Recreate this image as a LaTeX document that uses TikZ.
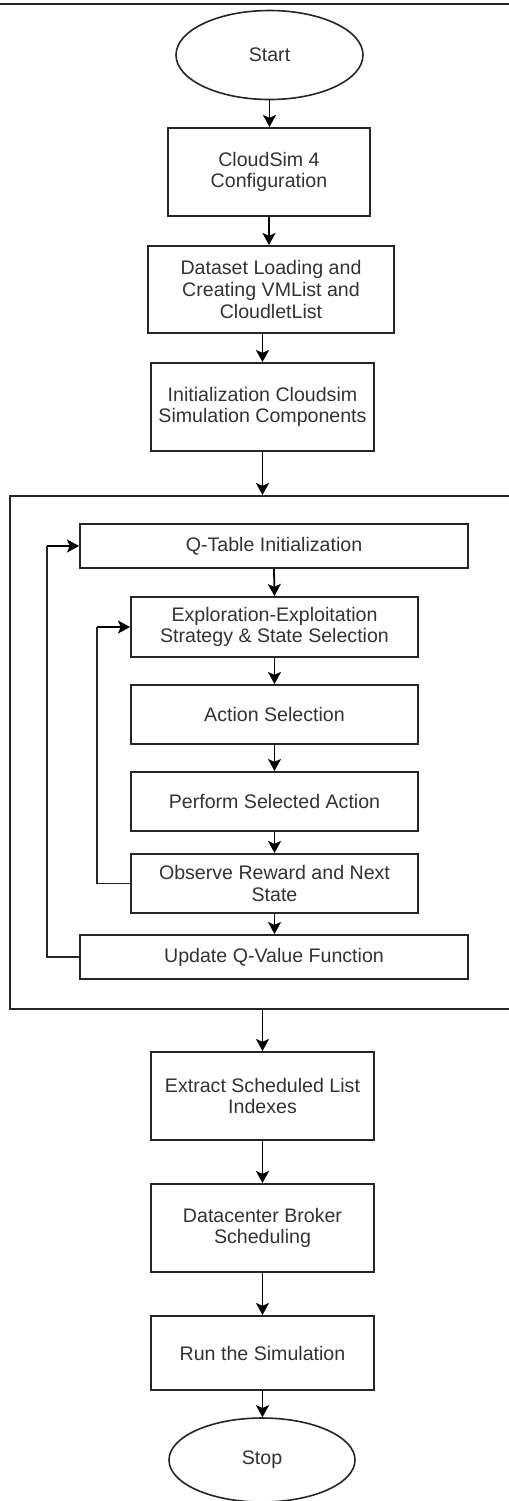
\documentclass[tikz,border=0pt]{standalone}
\usepackage{fontspec}
\setmainfont{Liberation Sans}
\usetikzlibrary{arrows.meta,shapes.geometric}
\begin{document}
\begin{tikzpicture}[x=0.5pt,y=-0.5pt,
  every node/.style={font=\fontsize{9.8}{10.9}\selectfont, text=black!80, align=center, inner sep=0pt},
  term/.style={draw=black!85, line width=0.8pt, ellipse},
  procbox/.style={draw=black!85, line width=1pt, rectangle},
  arr/.style={draw=black, line width=0.9pt, -{Stealth[length=6pt,width=6.5pt,inset=1.4pt]}},
  loopline/.style={draw=black!85, line width=0.9pt}
]
\useasboundingbox (0,0) rectangle (509,1501);
\clip (0,0) rectangle (509,1501);
\fill[white] (0,0) rectangle (509,1501);
\draw[black!85, line width=1pt] (0,4) -- (509,4);

\node[term, minimum width=93.5pt, minimum height=44.5pt] (start) at (269.5,55) {Start};
\node[procbox, minimum width=101pt, minimum height=44pt] (cfg) at (269,172) {CloudSim 4\\Configuration};
\node[procbox, minimum width=123pt, minimum height=43.5pt] (ds) at (271,289.5) {Dataset Loading and\\Creating VMList and\\CloudletList};
\node[procbox, minimum width=111.5pt, minimum height=44pt] (init) at (262.5,407) {Initialization Cloudsim\\Simulation Components};

\node[procbox, line width=0.9pt, minimum width=256pt, minimum height=256.5pt, anchor=north west] (frame) at (9,495) {};

\node[procbox, minimum width=194pt, minimum height=22pt] (qt) at (274,546) {Q-Table Initialization};
\node[procbox, minimum width=143.5pt, minimum height=30pt] (ex) at (274.5,627) {Exploration-Exploitation\\Strategy \& State Selection};
\node[procbox, minimum width=143.5pt, minimum height=29.5pt] (act) at (274.5,714.5) {Action Selection};
\node[procbox, minimum width=143.5pt, minimum height=29.5pt] (perf) at (274.5,801.5) {Perform Selected Action};
\node[procbox, minimum width=143.5pt, minimum height=29.5pt] (obs) at (274.5,883.5) {Observe Reward and Next\\State};
\node[procbox, minimum width=194pt, minimum height=22pt] (upd) at (274,957) {Update Q-Value Function};

\node[procbox, minimum width=111.5pt, minimum height=44pt] (ext) at (262.5,1096) {Extract Scheduled List\\Indexes};
\node[procbox, minimum width=111.5pt, minimum height=44pt] (dc) at (262.5,1228) {Datacenter Broker\\Scheduling};
\node[procbox, minimum width=111.5pt, minimum height=37pt] (run) at (262.5,1353) {Run the Simulation};
\node[term, minimum width=93pt, minimum height=42pt] (stop) at (262,1460) {Stop};

\coordinate (inA) at (97,883.5);
\coordinate (inB) at (97,627);
\coordinate (outA) at (47,957);
\coordinate (outB) at (47,546);

\draw[arr] (start.south) -- (start.south |- cfg.north);
\draw[arr] (cfg.south) -- (cfg.south |- ds.north);
\draw[arr] (ds.south -| init.north) -- (init.north);
\draw[arr] (init.south) -- (init.south |- frame.north);
\draw[arr] (qt.south) -- (ex.north);
\draw[arr] (ex.south) -- (act.north);
\draw[arr] (act.south) -- (perf.north);
\draw[arr] (perf.south) -- (obs.north);
\draw[arr] (obs.south) -- (obs.south |- upd.north);
\draw[loopline] (obs.west) -- (inA) -- (inB);
\draw[arr] (inB) -- (ex.west);
\draw[loopline] (upd.west) -- (outA) -- (outB);
\draw[arr] (outB) -- (qt.west);
\draw[arr] (frame.south -| ext.north) -- (ext.north);
\draw[arr] (ext.south) -- (dc.north);
\draw[arr] (dc.south) -- (run.north);
\draw[arr] (run.south) -- (run.south |- stop.north);
\end{tikzpicture}
\end{document}
